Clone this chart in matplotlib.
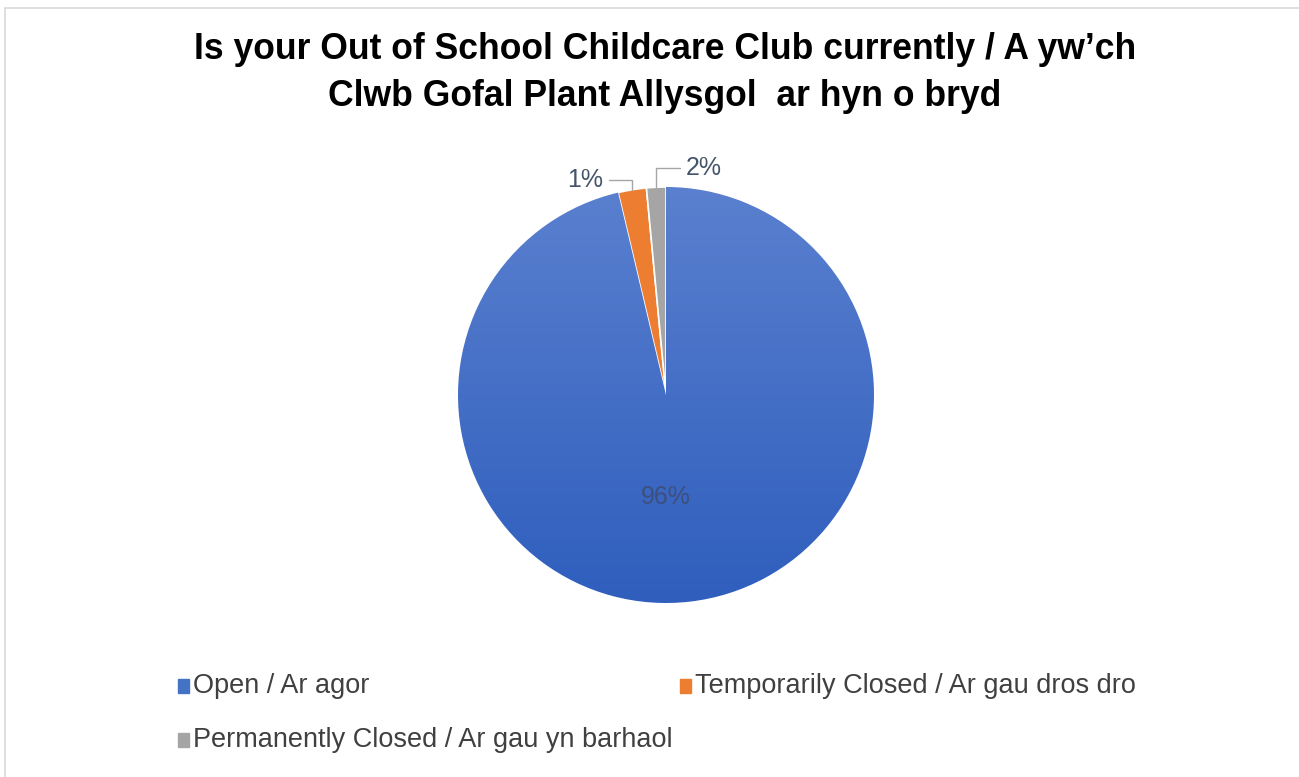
"""
Pie chart: status of Out of School Childcare Clubs (bilingual EN / CY).
"""

import numpy as np
import matplotlib
matplotlib.use("Agg")
import matplotlib.pyplot as plt
from matplotlib.patches import Rectangle

# ─────────────────────────────────────────────────────────────────────────────
# Data
# ─────────────────────────────────────────────────────────────────────────────

categories = ["Open / Ar agor",
              "Temporarily Closed / Ar gau dros dro",
              "Permanently Closed / Ar gau yn barhaol"]
shares     = [96.3, 2.2, 1.5]          # slice sizes
pct_labels = ["96%", "1%", "2%"]       # labels as printed on the chart
colors     = ["#4472C4", "#ED7D31", "#A5A5A5"]

title = ("Is your Out of School Childcare Club currently / A yw\u2019ch\n"
         "Clwb Gofal Plant Allysgol  ar hyn o bryd")

plt.rcParams["font.family"] = ["Liberation Sans", "DejaVu Sans"]

W, H = 1299, 777
fig = plt.figure(figsize=(W / 100, H / 100), dpi=100)
fig.patch.set_facecolor("white")

# chart frame (left and top edges visible, rest cropped)
fig.add_artist(Rectangle((5 / W, -0.1), 1.2, 1.1 - 8 / H, transform=fig.transFigure,
                         fill=False, edgecolor="#D9D9D9", lw=1.2))

fig.text(665 / W, 1 - 73 / H, title, ha="center", va="center",
         fontsize=25.6, fontweight="bold", color="#000000", linespacing=1.45)

# square axes: 520 px, radius 1 -> ~204 px
side = 520
cx, cy = 666, H - 395
ax = fig.add_axes([(cx - side / 2) / W, (cy - side / 2) / H, side / W, side / H])
lim = side / 2 / 204
ax.set_xlim(-lim, lim)
ax.set_ylim(-lim, lim)
ax.set_aspect("equal")
ax.axis("off")

wedges, _ = ax.pie(shares, colors=colors, startangle=90, counterclock=False,
                   radius=1.0, wedgeprops=dict(linewidth=1.2, edgecolor="white"))

# soft vertical gradient on the big blue slice
grad = np.linspace(0, 1, 256).reshape(-1, 1)
cmap = matplotlib.colors.LinearSegmentedColormap.from_list("bl", ["#2F5EBD", "#5A80CF"])
im = ax.imshow(grad, extent=(-1, 1, -1, 1), origin="lower", cmap=cmap,
               aspect="auto", zorder=wedges[0].get_zorder() + 0.1)
im.set_clip_path(wedges[0])

# percentage labels
ax.text(0, -0.49, pct_labels[0], ha="center", va="center", fontsize=18, color="#3D4F7C")

label_pos = {1: (-0.30, 1.035), 2: (0.093, 1.09)}
for i in (1, 2):
    w = wedges[i]
    ang = np.deg2rad((w.theta1 + w.theta2) / 2)
    mx, my = np.cos(ang), np.sin(ang)
    tx, ty = label_pos[i]
    ha = "right" if i == 1 else "left"
    ax.annotate(pct_labels[i], xy=(mx, my), xytext=(tx, ty), ha=ha, va="center",
                fontsize=18, color="#44546A",
                arrowprops=dict(arrowstyle="-", color="#A6A6A6", lw=1,
                                shrinkA=2, shrinkB=0,
                                connectionstyle="angle,angleA=0,angleB=90,rad=0"))

# legend entries
leg_pos = [(178, 686), (680, 686), (178, 740)]
for (lx, ly), c, name in zip(leg_pos, colors, categories):
    fig.add_artist(Rectangle((lx / W, 1 - (ly + 7) / H), 11 / W, 14 / H,
                             transform=fig.transFigure, color=c))
    fig.text((lx + 15) / W, 1 - ly / H, name, ha="left", va="center",
             fontsize=19.5, color="#404040")

fig.savefig("out.png", dpi=100)
plt.close(fig)
